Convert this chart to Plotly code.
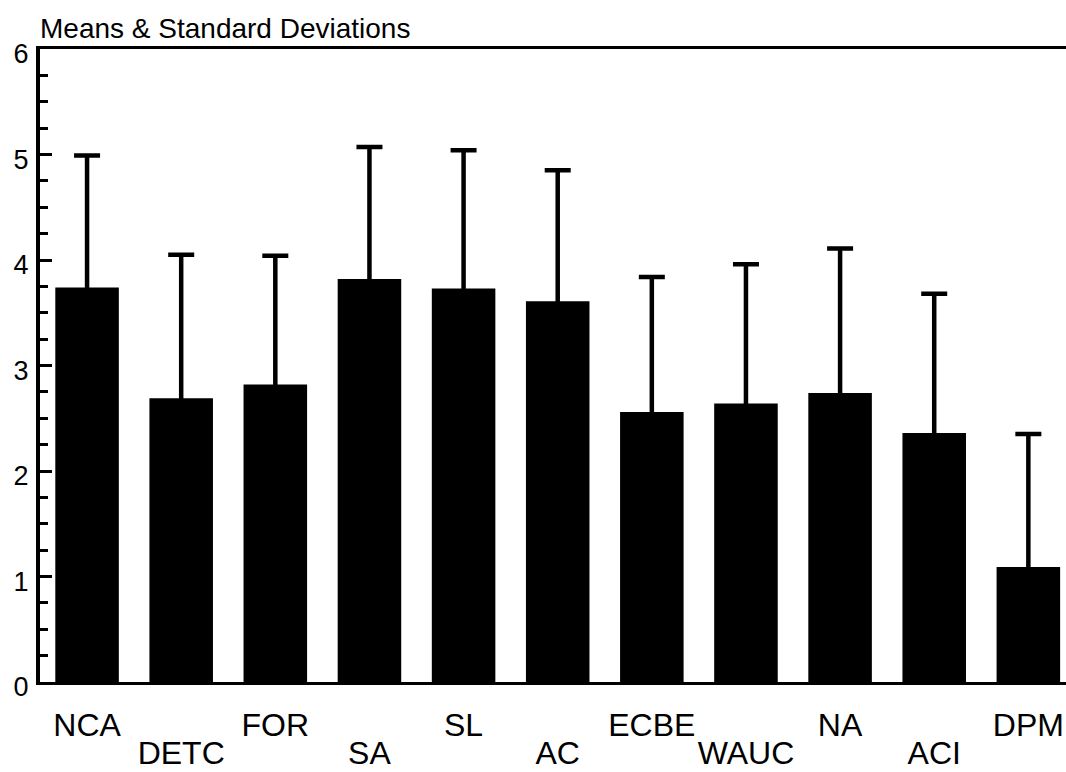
import plotly.graph_objects as go

categories = ["NCA", "DETC", "FOR", "SA", "SL", "AC", "ECBE", "WAUC", "NA", "ACI", "DPM"]
means = [3.74, 2.69, 2.82, 3.82, 3.73, 3.61, 2.56, 2.64, 2.74, 2.36, 1.09]
upper = [4.99, 4.05, 4.04, 5.07, 5.04, 4.85, 3.84, 3.96, 4.11, 3.68, 2.35]
sds = [round(u - m, 2) for u, m in zip(upper, means)]
y_ticks = [0, 1, 2, 3, 4, 5, 6]

upper_row = categories[0::2]
lower_row = categories[1::2]

FONT = "Liberation Sans, Arial, sans-serif"

fig = go.Figure()
fig.add_trace(go.Bar(
    x=categories, y=means,
    marker=dict(color="black", line=dict(width=0)),
    # lower whisker runs down inside the black bar so only the upper SD whisker is visible
    error_y=dict(type="data", symmetric=False, array=sds, arrayminus=means,
                 color="black", thickness=4.5, width=13),
    xaxis="x", yaxis="y", showlegend=False,
))
# invisible companion trace so the second (lower-row label) axis knows the categories
fig.add_trace(go.Scatter(
    x=categories, y=means, xaxis="x2", yaxis="y",
    mode="markers", marker=dict(opacity=0), hoverinfo="skip", showlegend=False,
))

xr = [-0.5, 10.4]
fig.update_layout(
    width=1066, height=772,
    margin=dict(l=40, r=0, t=49, b=90, autoexpand=False),
    paper_bgcolor="white", plot_bgcolor="white",
    bargap=0.325,
    font=dict(family=FONT, color="black"),
    title=dict(text="Means & Standard Deviations", x=40 / 1066, xanchor="left", xref="container",
               y=1 - 28 / 772, yanchor="middle", yref="container", automargin=False,
               font=dict(size=28, family=FONT, color="black")),
    xaxis=dict(type="category", categoryorder="array", categoryarray=categories,
               range=xr, showgrid=False, zeroline=False, automargin=False,
               showline=True, linecolor="black", linewidth=3, mirror=True,
               ticks="", tickmode="array", tickvals=upper_row, ticktext=upper_row,
               tickfont=dict(size=32, family=FONT, color="black"),
               ticklabelstandoff=13),
    xaxis2=dict(type="category", categoryorder="array", categoryarray=categories,
                range=xr, overlaying="x", anchor="y", side="bottom", automargin=False,
                showgrid=False, zeroline=False, showline=False,
                ticks="", tickmode="array", tickvals=lower_row, ticktext=lower_row,
                tickfont=dict(size=32, family=FONT, color="black"),
                ticklabelstandoff=49),
    yaxis=dict(range=[0, 6], showgrid=False, zeroline=False, automargin=False,
               showline=True, linecolor="black", linewidth=4,
               tickmode="array", tickvals=y_ticks,
               ticks="inside", ticklen=12, tickwidth=3, tickcolor="black",
               minor=dict(ticks="inside", ticklen=8, tickwidth=3, tickcolor="black", dtick=0.25),
               tickfont=dict(size=27, family=FONT, color="black"),
               ticklabelstandoff=2, ticklabelshift=5),
)

fig.write_html("out.html")
